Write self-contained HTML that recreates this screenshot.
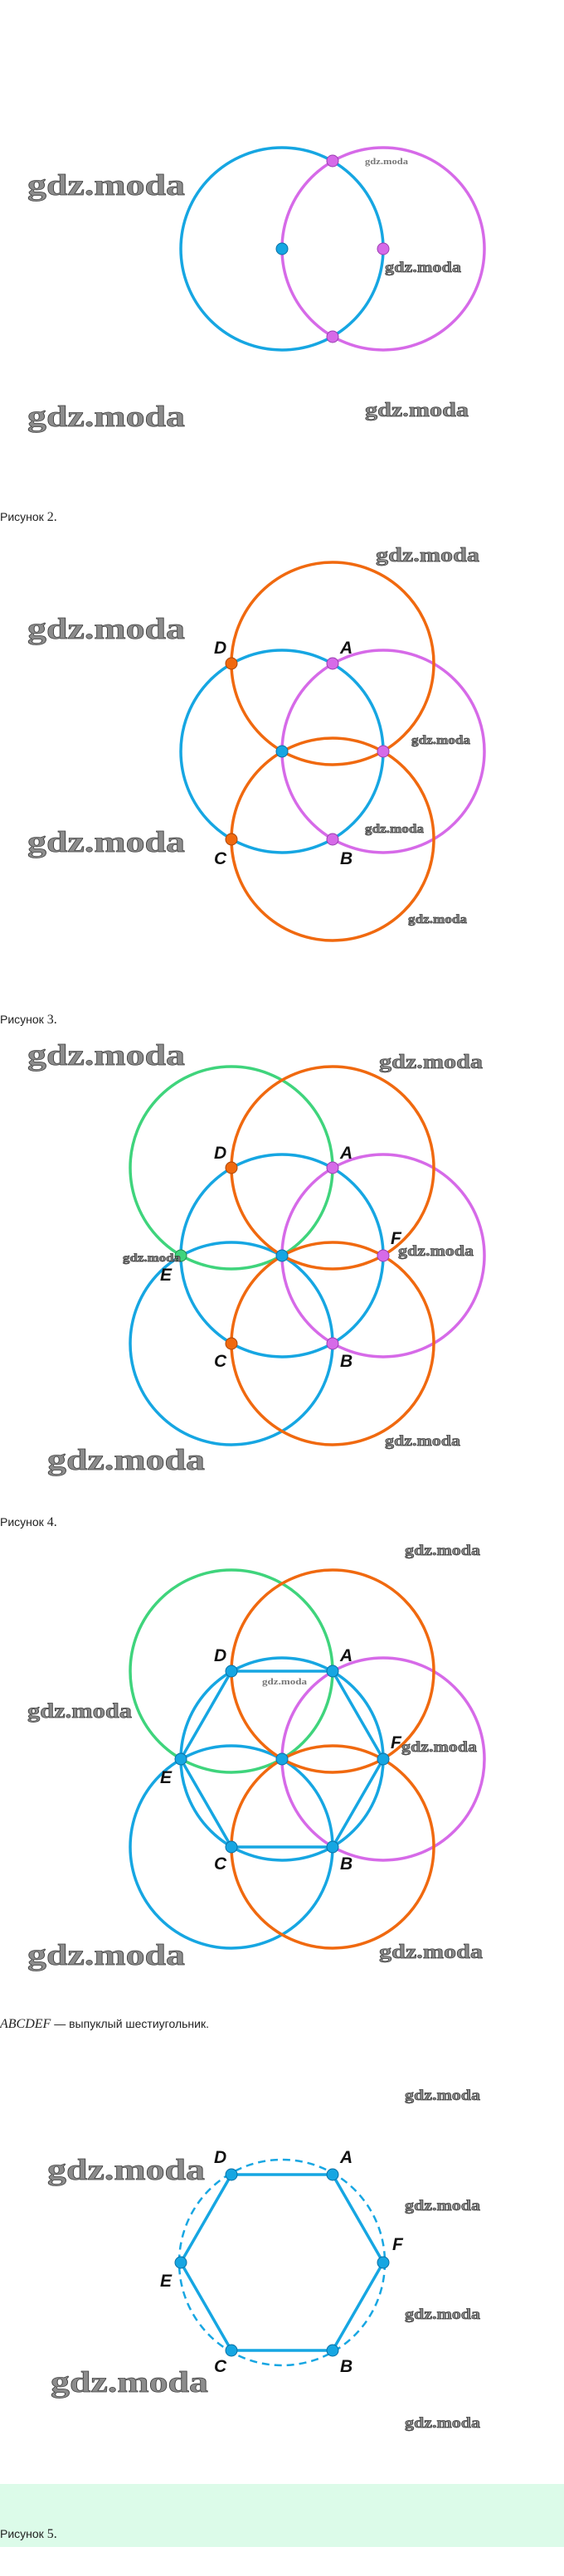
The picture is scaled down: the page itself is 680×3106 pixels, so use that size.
<!DOCTYPE html>
<html><head><meta charset="utf-8"><style>
html,body{margin:0;padding:0;background:#fff;}
svg{display:block;}
.wm{font-family:"Liberation Serif",serif;font-weight:bold;fill:#8c8c8c;stroke:#3a3a3a;stroke-width:0.7;}
.wms{font-family:"Liberation Serif",serif;font-weight:bold;fill:#777;}
.lb{font-family:"Liberation Sans Narrow","Liberation Sans",sans-serif;font-style:italic;font-weight:bold;font-size:21px;fill:#111;}
.cap{font-family:"Liberation Sans","DejaVu Sans",sans-serif;font-size:14px;fill:#222;}
.capn{font-family:"Liberation Serif",serif;font-size:16px;fill:#222;}
.b{fill:none;stroke:#16a6e2;stroke-width:3.5;}
.p{fill:none;stroke:#d66ae8;stroke-width:3.5;}
.o{fill:none;stroke:#f0690f;stroke-width:3.5;}
.g{fill:none;stroke:#3fd47c;stroke-width:3.5;}
.pb{fill:#16a6e2;stroke:#0b6fa3;stroke-width:1;}
.pp{fill:#d66ae8;stroke:#9a3fb0;stroke-width:1;}
.po{fill:#f0690f;stroke:#a9460a;stroke-width:1;}
.pg{fill:#3fd47c;stroke:#238a4c;stroke-width:1;}
</style></head><body>
<svg width="680" height="3106" viewBox="0 0 680 3106" xmlns="http://www.w3.org/2000/svg">
<rect x="0" y="2995" width="680" height="76" fill="#dcfbe9"/>

<!-- Figure 1 -->
<circle class="b" cx="340" cy="300" r="122"/>
<circle class="p" cx="462" cy="300" r="122"/>
<circle class="pp" cx="401" cy="194" r="7"/>
<circle class="pp" cx="401" cy="406" r="7"/>
<circle class="pp" cx="462" cy="300" r="7"/>
<circle class="pb" cx="340" cy="300" r="7"/>
<text class="wm" x="33" y="235" font-size="36" textLength="190" lengthAdjust="spacingAndGlyphs">gdz.moda</text>
<text class="wm" x="33" y="514" font-size="36" textLength="190" lengthAdjust="spacingAndGlyphs">gdz.moda</text>
<text class="wm" x="440" y="502" font-size="24" textLength="125" lengthAdjust="spacingAndGlyphs">gdz.moda</text>
<text class="wms" x="440" y="198" font-size="11" textLength="52" lengthAdjust="spacingAndGlyphs">gdz.moda</text>
<text class="wm" x="464" y="328" font-size="18" textLength="92" lengthAdjust="spacingAndGlyphs" stroke-width="0.4">gdz.moda</text>
<text class="cap" x="0" y="628">Рисунок <tspan class="capn">2.</tspan></text>

<!-- Figure 2 -->
<circle class="b" cx="340" cy="906" r="122"/>
<circle class="p" cx="462" cy="906" r="122"/>
<circle class="o" cx="401" cy="800" r="122"/>
<circle class="o" cx="401" cy="1012" r="122"/>
<circle class="po" cx="279" cy="800" r="7"/>
<circle class="po" cx="279" cy="1012" r="7"/>
<circle class="pp" cx="401" cy="800" r="7"/>
<circle class="pp" cx="401" cy="1012" r="7"/>
<circle class="pp" cx="462" cy="906" r="7"/>
<circle class="pb" cx="340" cy="906" r="7"/>
<text class="lb" x="258" y="788">D</text>
<text class="lb" x="410" y="788">A</text>
<text class="lb" x="258" y="1042">C</text>
<text class="lb" x="410" y="1042">B</text>
<text class="wm" x="33" y="770" font-size="36" textLength="190" lengthAdjust="spacingAndGlyphs">gdz.moda</text>
<text class="wm" x="33" y="1027" font-size="36" textLength="190" lengthAdjust="spacingAndGlyphs">gdz.moda</text>
<text class="wm" x="453" y="677" font-size="24" textLength="125" lengthAdjust="spacingAndGlyphs">gdz.moda</text>
<text class="wm" x="496" y="897" font-size="15" textLength="71" lengthAdjust="spacingAndGlyphs" stroke-width="0.3">gdz.moda</text>
<text class="wm" x="440" y="1004" font-size="15" textLength="71" lengthAdjust="spacingAndGlyphs" stroke-width="0.3">gdz.moda</text>
<text class="wm" x="492" y="1113" font-size="15" textLength="71" lengthAdjust="spacingAndGlyphs" stroke-width="0.3">gdz.moda</text>
<text class="cap" x="0" y="1234">Рисунок <tspan class="capn">3.</tspan></text>

<!-- Figure 3 -->
<circle class="g" cx="279" cy="1408" r="122"/>
<circle class="b" cx="279" cy="1620" r="122"/>
<circle class="b" cx="340" cy="1514" r="122"/>
<circle class="p" cx="462" cy="1514" r="122"/>
<circle class="o" cx="401" cy="1408" r="122"/>
<circle class="o" cx="401" cy="1620" r="122"/>
<circle class="po" cx="279" cy="1408" r="7"/>
<circle class="po" cx="279" cy="1620" r="7"/>
<circle class="pp" cx="401" cy="1408" r="7"/>
<circle class="pp" cx="401" cy="1620" r="7"/>
<circle class="pp" cx="462" cy="1514" r="7"/>
<circle class="pg" cx="218" cy="1514" r="7"/>
<circle class="pb" cx="340" cy="1514" r="7"/>
<text class="lb" x="258" y="1397">D</text>
<text class="lb" x="410" y="1397">A</text>
<text class="lb" x="471" y="1500">F</text>
<text class="lb" x="193" y="1544">E</text>
<text class="lb" x="258" y="1648">C</text>
<text class="lb" x="410" y="1648">B</text>
<text class="wm" x="33" y="1284" font-size="36" textLength="190" lengthAdjust="spacingAndGlyphs">gdz.moda</text>
<text class="wm" x="457" y="1288" font-size="24" textLength="125" lengthAdjust="spacingAndGlyphs">gdz.moda</text>
<text class="wm" x="148" y="1521" font-size="14" textLength="70" lengthAdjust="spacingAndGlyphs" stroke-width="0.3">gdz.moda</text>
<text class="wm" x="480" y="1514" font-size="18" textLength="91" lengthAdjust="spacingAndGlyphs" stroke-width="0.4">gdz.moda</text>
<text class="wm" x="464" y="1743" font-size="18" textLength="91" lengthAdjust="spacingAndGlyphs" stroke-width="0.4">gdz.moda</text>
<text class="wm" x="57" y="1772" font-size="36" textLength="190" lengthAdjust="spacingAndGlyphs">gdz.moda</text>
<text class="cap" x="0" y="1840">Рисунок <tspan class="capn">4.</tspan></text>

<!-- Figure 4 -->
<circle class="g" cx="279" cy="2015" r="122"/>
<circle class="b" cx="279" cy="2227" r="122"/>
<circle class="b" cx="340" cy="2121" r="122"/>
<circle class="p" cx="462" cy="2121" r="122"/>
<circle class="o" cx="401" cy="2015" r="122"/>
<circle class="o" cx="401" cy="2227" r="122"/>
<polygon fill="none" stroke="#16a6e2" stroke-width="3.5" points="279,2015 401,2015 462,2121 401,2227 279,2227 218,2121"/>
<circle class="pb" cx="279" cy="2015" r="7"/>
<circle class="pb" cx="401" cy="2015" r="7"/>
<circle class="pb" cx="462" cy="2121" r="7"/>
<circle class="pb" cx="401" cy="2227" r="7"/>
<circle class="pb" cx="279" cy="2227" r="7"/>
<circle class="pb" cx="218" cy="2121" r="7"/>
<circle class="pb" cx="340" cy="2121" r="7"/>
<text class="lb" x="258" y="2003">D</text>
<text class="lb" x="410" y="2003">A</text>
<text class="lb" x="471" y="2108">F</text>
<text class="lb" x="193" y="2150">E</text>
<text class="lb" x="258" y="2254">C</text>
<text class="lb" x="410" y="2254">B</text>
<text class="wm" x="488" y="1875" font-size="18" textLength="91" lengthAdjust="spacingAndGlyphs" stroke-width="0.4">gdz.moda</text>
<text class="wm" x="33" y="2071" font-size="25" textLength="126" lengthAdjust="spacingAndGlyphs">gdz.moda</text>
<text class="wms" x="316" y="2031" font-size="11" textLength="54" lengthAdjust="spacingAndGlyphs">gdz.moda</text>
<text class="wm" x="484" y="2112" font-size="18" textLength="91" lengthAdjust="spacingAndGlyphs" stroke-width="0.4">gdz.moda</text>
<text class="wm" x="33" y="2369" font-size="36" textLength="190" lengthAdjust="spacingAndGlyphs">gdz.moda</text>
<text class="wm" x="457" y="2361" font-size="24" textLength="125" lengthAdjust="spacingAndGlyphs">gdz.moda</text>

<!-- Figure 5 -->
<text class="cap" x="0" y="2445"><tspan font-family="Liberation Serif, serif" font-style="italic" font-size="16">ABCDEF</tspan> — выпуклый шестиугольник.</text>
<circle cx="340" cy="2728" r="124" fill="none" stroke="#16a6e2" stroke-width="2.5" stroke-dasharray="9,6"/>
<polygon fill="none" stroke="#16a6e2" stroke-width="3.5" points="279,2622 401,2622 462,2728 401,2834 279,2834 218,2728"/>
<circle class="pb" cx="279" cy="2622" r="7"/>
<circle class="pb" cx="401" cy="2622" r="7"/>
<circle class="pb" cx="462" cy="2728" r="7"/>
<circle class="pb" cx="401" cy="2834" r="7"/>
<circle class="pb" cx="279" cy="2834" r="7"/>
<circle class="pb" cx="218" cy="2728" r="7"/>
<text class="lb" x="258" y="2608">D</text>
<text class="lb" x="410" y="2608">A</text>
<text class="lb" x="473" y="2713">F</text>
<text class="lb" x="193" y="2757">E</text>
<text class="lb" x="258" y="2860">C</text>
<text class="lb" x="410" y="2860">B</text>
<text class="wm" x="488" y="2532" font-size="18" textLength="91" lengthAdjust="spacingAndGlyphs" stroke-width="0.4">gdz.moda</text>
<text class="wm" x="488" y="2665" font-size="18" textLength="91" lengthAdjust="spacingAndGlyphs" stroke-width="0.4">gdz.moda</text>
<text class="wm" x="488" y="2796" font-size="18" textLength="91" lengthAdjust="spacingAndGlyphs" stroke-width="0.4">gdz.moda</text>
<text class="wm" x="488" y="2927" font-size="18" textLength="91" lengthAdjust="spacingAndGlyphs" stroke-width="0.4">gdz.moda</text>
<text class="wm" x="57" y="2628" font-size="36" textLength="190" lengthAdjust="spacingAndGlyphs">gdz.moda</text>
<text class="wm" x="61" y="2884" font-size="36" textLength="190" lengthAdjust="spacingAndGlyphs">gdz.moda</text>
<text class="cap" x="0" y="3060">Рисунок <tspan class="capn">5.</tspan></text>
</svg>
</body></html>
